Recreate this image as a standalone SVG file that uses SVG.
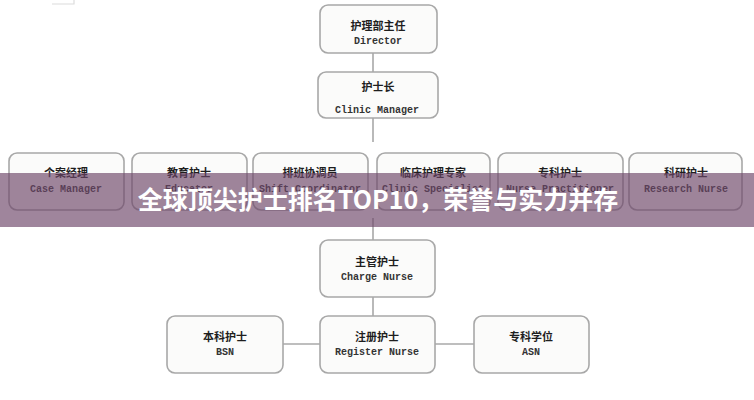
<svg xmlns="http://www.w3.org/2000/svg" width="754" height="400" viewBox="0 0 754 400">
<style>
.box{fill:#fbfbfa;stroke:#a8a8a8;stroke-width:1.6}
.zh{font-family:"Noto Sans CJK SC","Noto Sans",sans-serif;font-weight:bold;font-size:11px;fill:#1e1e1e;text-anchor:middle}
.en{font-family:"Liberation Mono","DejaVu Sans Mono",monospace;font-weight:bold;font-size:10px;fill:#333;text-anchor:middle}
.ln{stroke:#a8a8a8;stroke-width:1.6;fill:none}
</style>
<rect width="754" height="400" fill="#ffffff"/>
<path d="M52 4 H74 V0" stroke="#dcdcdc" stroke-width="1.2" fill="none"/>
<g id="connectors">
<line class="ln" x1="373" y1="53" x2="373" y2="72"/>
<line class="ln" x1="373" y1="118" x2="373" y2="142"/>
<line class="ln" x1="373" y1="218" x2="373" y2="240"/>
<line class="ln" x1="373" y1="297" x2="373" y2="316"/>
<line class="ln" x1="283" y1="344" x2="320" y2="344"/>
<line class="ln" x1="435" y1="344" x2="474" y2="344"/>
</g>
<g id="director"><rect class="box" x="320" y="5" width="117" height="48" rx="8"/><text class="zh" x="378" y="30">护理部主任</text><text class="en" x="378" y="44">Director</text></g>
<g id="clinic-manager"><rect class="box" x="318" y="72" width="120" height="46" rx="8"/><text class="zh" x="378" y="91">护士长</text><text class="en" x="377" y="113">Clinic Manager</text></g>
<g id="case-manager"><rect class="box" x="9" y="153" width="115" height="57" rx="8"/><text class="zh" x="66" y="177">个案经理</text><text class="en" x="66" y="192">Case Manager</text></g>
<g id="educator"><rect class="box" x="132" y="153" width="115" height="57" rx="8"/><text class="zh" x="189" y="177">教育护士</text><text class="en" x="189" y="192">Educator</text></g>
<g id="shift-coordinator"><rect class="box" x="253" y="153" width="115" height="57" rx="8"/><text class="zh" x="310" y="177">排班协调员</text><text class="en" x="310" y="192">Shift Coordinator</text></g>
<g id="clinic-specialist"><rect class="box" x="377" y="153" width="113" height="57" rx="8"/><text class="zh" x="433" y="177">临床护理专家</text><text class="en" x="433" y="192">Clinic Specialist</text></g>
<g id="nurse-practitioner"><rect class="box" x="498" y="153" width="125" height="57" rx="8"/><text class="zh" x="560" y="177">专科护士</text><text class="en" x="560" y="192">Nurse Practitioner</text></g>
<g id="research-nurse"><rect class="box" x="629" y="153" width="113" height="57" rx="8"/><text class="zh" x="686" y="177">科研护士</text><text class="en" x="686" y="192">Research Nurse</text></g>
<g id="charge-nurse"><rect class="box" x="320" y="240" width="115" height="57" rx="8"/><text class="zh" x="377" y="266">主管护士</text><text class="en" x="377" y="280">Charge Nurse</text></g>
<g id="bsn"><rect class="box" x="167" y="316" width="116" height="57" rx="8"/><text class="zh" x="225" y="341">本科护士</text><text class="en" x="225" y="355">BSN</text></g>
<g id="register-nurse"><rect class="box" x="320" y="316" width="115" height="57" rx="8"/><text class="zh" x="377" y="341">注册护士</text><text class="en" x="377" y="355">Register Nurse</text></g>
<g id="asn"><rect class="box" x="474" y="316" width="115" height="57" rx="8"/><text class="zh" x="531" y="341">专科学位</text><text class="en" x="531" y="355">ASN</text></g>
<g id="banner">
<rect x="0" y="173" width="754" height="54" fill="rgb(110,70,105)" fill-opacity="0.66"/>
<text x="378" y="209" font-family="'Noto Sans CJK SC','Noto Sans',sans-serif" font-weight="bold" font-size="25" fill="#ffffff" text-anchor="middle">全球顶尖护士排名TOP10，荣誉与实力并存</text>
</g>
</svg>
